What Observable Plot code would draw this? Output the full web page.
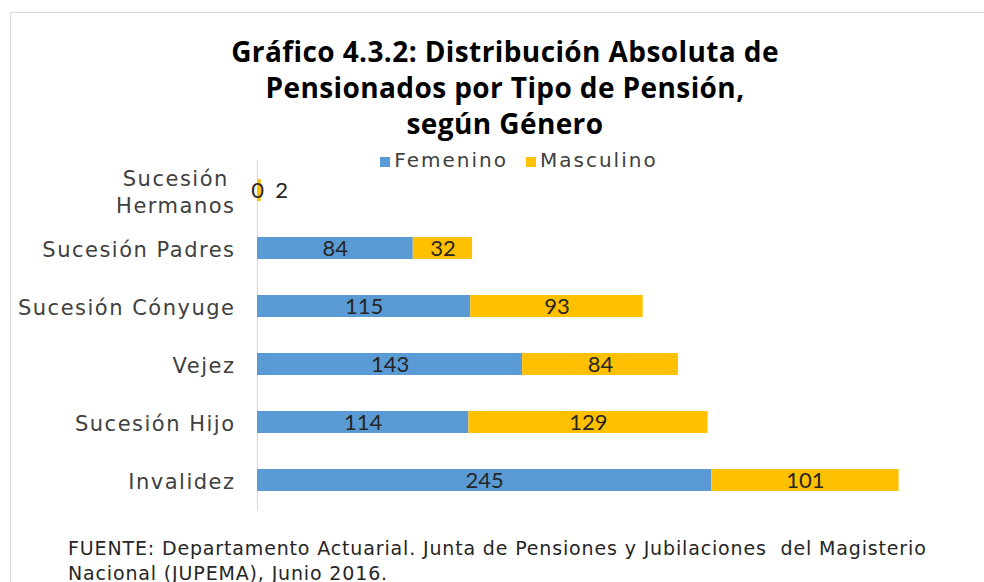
<!DOCTYPE html>
<html>
<head>
<meta charset="utf-8">
<script src="https://cdn.jsdelivr.net/npm/d3@7"></script>
<script src="https://cdn.jsdelivr.net/npm/@observablehq/plot@0.6"></script>
<style>
  html, body { margin: 0; padding: 0; background: #fff; }
  #wrap { position: relative; width: 984px; height: 582px; overflow: hidden; font-family: "DejaVu Sans", sans-serif; }
  #frame { position: absolute; left: 10px; top: 12px; width: 1000px; height: 600px; border: 1px solid #d9d9d9; box-sizing: border-box; }
  #title { position: absolute; left: 0; width: 1010px; top: 33px; text-align: center; font-family: "Open Sans", sans-serif; font-weight: bold; font-size: 28px; line-height: 36px; color: #000; letter-spacing: 0.4px; }
  #legend { position: absolute; left: 0; width: 1038px; top: 148px; text-align: center; font-size: 20px; color: #404040; letter-spacing: 2px; }
  #legend span.sw { display: inline-block; width: 10px; height: 10px; margin-right: 4px; }
  #legend span.item { margin: 0 9px; }
  #chart { position: absolute; left: 0; top: 140px; }
  #chart g[aria-label="y-axis tick label"] text { letter-spacing: 1.5px; }
  #caption { position: absolute; left: 68px; top: 536px; font-size: 19px; line-height: 25px; color: #262626; white-space: pre; letter-spacing: 0.85px; }
</style>
</head>
<body>
<div id="wrap">
  <div id="frame"></div>
  <div id="title"></div>
  <div id="legend"></div>
  <div id="chart"></div>
  <div id="caption"></div>
</div>
<script>
const titleLines = ["Gráfico 4.3.2: Distribución Absoluta de", "Pensionados por Tipo de Pensión,", "según Género"];
const categories = ["Sucesión\nHermanos", "Sucesión Padres", "Sucesión Cónyuge", "Vejez", "Sucesión Hijo", "Invalidez"];
const series = ["Femenino", "Masculino"];
const colors = ["#5B9BD5", "#FFC000"];
const femenino = [0, 84, 115, 143, 114, 245];
const masculino = [2, 32, 93, 84, 129, 101];
const caption = ["FUENTE: Departamento Actuarial. Junta de Pensiones y Jubilaciones  del Magisterio", "Nacional (JUPEMA), Junio 2016."];

document.getElementById("title").innerHTML = titleLines.join("<br>");
document.getElementById("caption").textContent = caption.join("\n");
document.getElementById("legend").innerHTML = series.map((s, i) =>
  `<span class="item"><span class="sw" style="background:${colors[i]}"></span>${s}</span>`).join("");

const rows = [];
categories.forEach((c, i) => {
  rows.push({cat: c, serie: series[0], value: femenino[i]});
  rows.push({cat: c, serie: series[1], value: masculino[i]});
});

const small = 10;
const chart = Plot.plot({
  width: 984,
  height: 380,
  marginLeft: 257,
  marginRight: 78,
  marginTop: 20,
  marginBottom: 9,
  style: {fontFamily: "'DejaVu Sans', sans-serif", background: "transparent"},
  x: {domain: [0, 350], axis: null},
  y: {domain: categories, paddingInner: 0.62, paddingOuter: 0.31, label: null},
  color: {domain: series, range: colors},
  marks: [
    Plot.axisY({tickSize: 0, tickPadding: 22, fontSize: 21, fill: "#404040", label: null, lineHeight: 1.3}),
    Plot.ruleX([0], {stroke: "#d9d9d9", strokeWidth: 1}),
    Plot.barX(rows, Plot.stackX({x: "value", y: "cat", fill: "serie", order: series})),
    Plot.text(rows, Plot.stackX({
      filter: d => d.value >= small || d.serie === series[0],
      x: "value", y: "cat", z: "serie", order: series, text: d => String(d.value),
      fontSize: 22, fill: "#262626", fontFamily: "Lato, sans-serif"
    })),
    Plot.text(rows, Plot.stackX2({
      filter: d => d.value < small && d.serie === series[1],
      x: "value", y: "cat", z: "serie", order: series, text: d => String(d.value),
      fontSize: 22, fill: "#262626", fontFamily: "Lato, sans-serif", textAnchor: "start", dx: 14
    }))
  ]
});
document.getElementById("chart").appendChild(chart);

// center-align lines of multi-line tick labels, as in the original
chart.querySelectorAll('g[aria-label="y-axis tick label"] text').forEach(t => {
  const spans = t.querySelectorAll("tspan");
  if (spans.length > 1) {
    const lens = Array.from(spans, s => s.getComputedTextLength());
    const max = Math.max(...lens);
    spans.forEach((s, i) => s.setAttribute("x", -(max - lens[i]) / 2));
  }
});
</script>
</body>
</html>
